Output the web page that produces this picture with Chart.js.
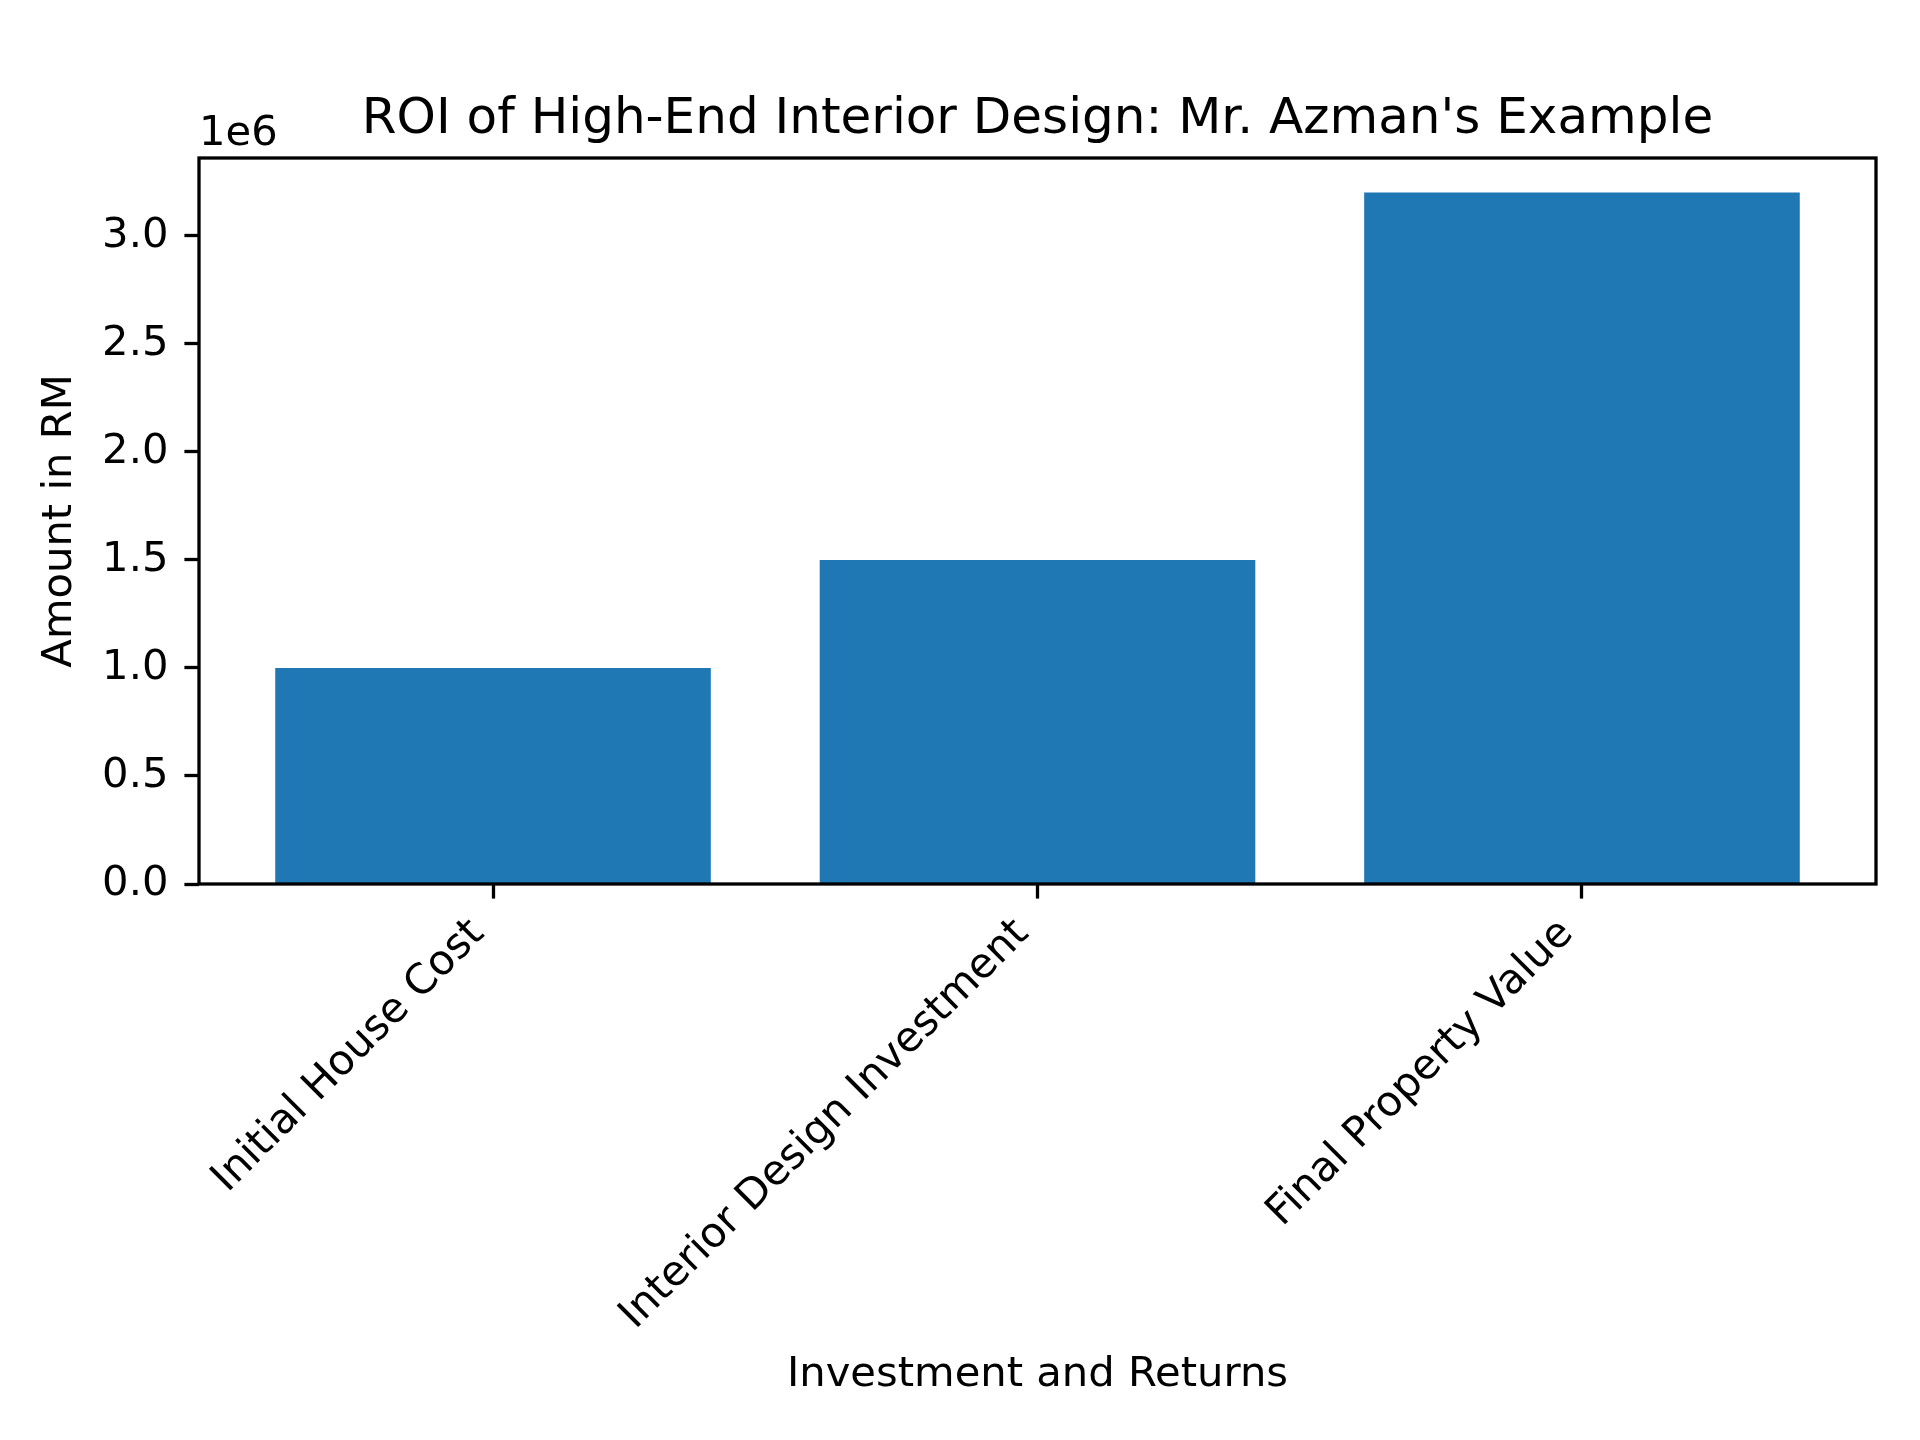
<!DOCTYPE html>
<html>
<head>
<meta charset="utf-8">
<title>ROI of High-End Interior Design</title>
<script src="https://cdn.jsdelivr.net/npm/chart.js@4.4.1/dist/chart.umd.min.js"></script>
<style>
  html, body { margin: 0; padding: 0; background: #fff; }
  #wrap { width: 1920px; height: 1440px; }
</style>
</head>
<body>
<div id="wrap"><canvas id="roi-chart" width="1920" height="1440"></canvas></div>
<script>
// data
const CATEGORIES = ['Initial House Cost', 'Interior Design Investment', 'Final Property Value'];
const AMOUNTS = [1000000, 1500000, 3200000];
const Y_TICKS = [0, 500000, 1000000, 1500000, 2000000, 2500000, 3000000];
const Y_MAX = 3360000;
const X_MIN = -0.54;
const X_MAX = 2.54;

const BAR_COLOR = '#1f77b4';
const LINE_W = 3.3;      // 0.8pt at 300dpi
const TICK_LEN = 14.6;   // 3.5pt at 300dpi
const FS_TICK = 41.7;    // 10pt
const FS_TITLE = 50;     // 12pt

Chart.defaults.font.family = "'DejaVu Sans', sans-serif";
Chart.defaults.color = '#000';

// box around the axes + the "1e6" offset text
const frame = {
    id: 'frame',
    afterDraw(chart) {
        const { ctx, chartArea: a } = chart;
        ctx.save();
        ctx.strokeStyle = '#000';
        ctx.lineWidth = LINE_W;
        ctx.strokeRect(a.left, a.top, a.right - a.left, a.bottom - a.top);
        ctx.font = `${FS_TICK}px 'DejaVu Sans'`;
        ctx.fillStyle = '#000';
        ctx.textAlign = 'left';
        ctx.textBaseline = 'alphabetic';
        ctx.fillText('1e6', a.left, a.top - 13);
        ctx.restore();
    }
};

new Chart(document.getElementById('roi-chart').getContext('2d'), {
    type: 'bar',
    data: {
        datasets: [{
            data: AMOUNTS.map((v, i) => ({ x: i, y: v })),
            backgroundColor: BAR_COLOR,
            borderWidth: 0,
            categoryPercentage: 1.0,
            barPercentage: 0.8
        }]
    },
    options: {
        responsive: false,
        devicePixelRatio: 1,
        animation: false,
        layout: { padding: { left: 0, right: 44, top: 0, bottom: 0 } },
        plugins: {
            legend: { display: false },
            tooltip: { enabled: false },
            title: {
                display: true,
                fullSize: false,
                text: "ROI of High-End Interior Design: Mr. Azman's Example",
                font: { size: FS_TITLE, weight: 'normal' },
                color: '#000',
                padding: { top: 90, bottom: 8 }
            }
        },
        scales: {
            x: {
                type: 'linear',
                offset: false,
                min: X_MIN,
                max: X_MAX,
                afterBuildTicks: (s) => { s.ticks = CATEGORIES.map((c, i) => ({ value: i })); },
                afterFit: (s) => { s.height = 556; },
                border: { display: false },
                grid: {
                    display: true, offset: false, drawOnChartArea: false, drawTicks: true,
                    tickLength: TICK_LEN, tickWidth: LINE_W, tickColor: '#000'
                },
                ticks: {
                    autoSkip: false,
                    minRotation: 45,
                    maxRotation: 45,
                    padding: 11,
                    labelOffset: -15,
                    font: { size: FS_TICK },
                    callback: (v) => CATEGORIES[v]
                },
                title: {
                    display: true,
                    text: 'Investment and Returns',
                    font: { size: FS_TICK },
                    color: '#000',
                    padding: { top: 0, bottom: 40 }
                }
            },
            y: {
                min: 0,
                max: Y_MAX,
                afterBuildTicks: (s) => { s.ticks = Y_TICKS.map(v => ({ value: v })); },
                afterFit: (s) => { s.width = 199; },
                border: { display: false },
                grid: {
                    display: true, drawOnChartArea: false, drawTicks: true,
                    tickLength: TICK_LEN, tickWidth: LINE_W, tickColor: '#000'
                },
                ticks: {
                    padding: 16,
                    font: { size: FS_TICK },
                    callback: (v) => (v / 1e6).toFixed(1)
                },
                title: {
                    display: true,
                    text: 'Amount in RM',
                    font: { size: FS_TICK },
                    color: '#000',
                    padding: { top: 35, bottom: 0 }
                }
            }
        }
    },
    plugins: [frame]
});
</script>
</body>
</html>
